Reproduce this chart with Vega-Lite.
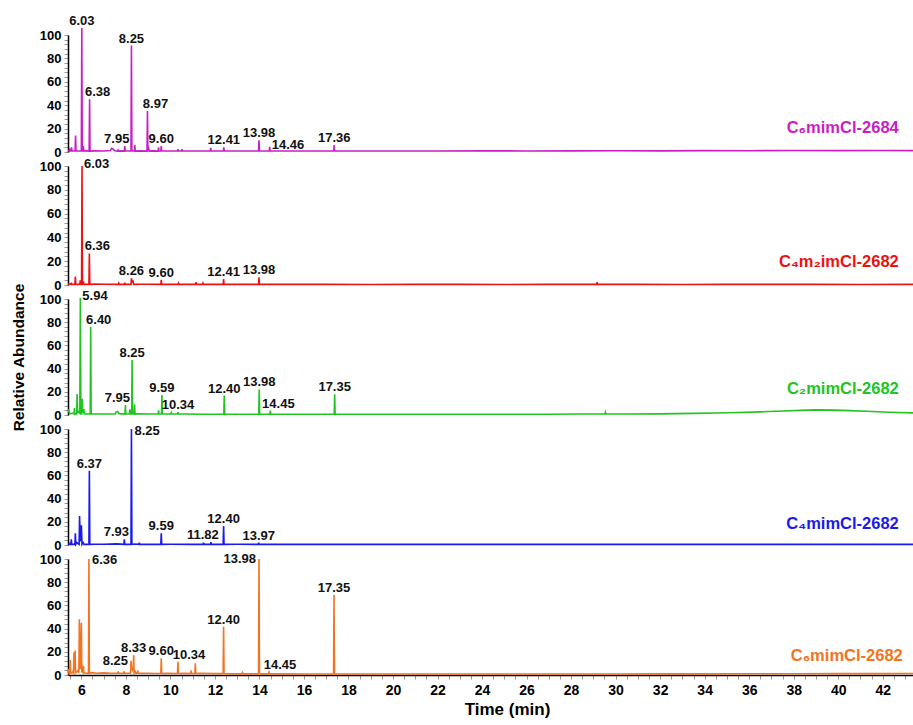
{
  "$schema": "https://vega.github.io/schema/vega-lite/v6.json",
  "background": "white",
  "padding": {"left": 11, "top": 14, "right": 0, "bottom": 5},
  "spacing": 14,
  "bounds": "flush",
  "config": {
    "view": {"stroke": null},
    "font": "Liberation Sans",
    "axis": {"labelFont": "Liberation Sans", "labelFontWeight": "bold", "labelColor": "black", "titleFont": "Liberation Sans", "titleFontWeight": "bold", "titleColor": "black", "domainColor": "black", "domainWidth": 1.5, "tickColor": "#999999", "tickSize": 4, "grid": false, "labelOverlap": false},
    "text": {"font": "Liberation Sans", "fontWeight": "bold", "fontSize": 13, "color": "#111111", "baseline": "alphabetic"}
  },
  "datasets": {
    "tr": [
      {"s":"m","t":5.40,"v":1.2},{"s":"m","t":5.46,"v":0.8},{"s":"m","t":5.48,"v":2},{"s":"m","t":5.50,"v":0.8},{"s":"m","t":5.54,"v":0.8},{"s":"m","t":5.56,"v":4},{"s":"m","t":5.58,"v":0.8},{"s":"m","t":5.72,"v":0.8},{"s":"m","t":5.74,"v":14},{"s":"m","t":5.76,"v":0.8},{"s":"m","t":6.00,"v":0.8},{"s":"m","t":6.02,"v":106},{"s":"m","t":6.04,"v":0.8},{"s":"m","t":6.07,"v":0.8},{"s":"m","t":6.09,"v":5},{"s":"m","t":6.11,"v":0.8},{"s":"m","t":6.20,"v":1},{"s":"m","t":6.35,"v":0.8},{"s":"m","t":6.37,"v":45},{"s":"m","t":6.39,"v":0.8},{"s":"m","t":6.60,"v":1},{"s":"m","t":7.00,"v":0.9},{"s":"m","t":7.30,"v":1.2},{"s":"m","t":7.36,"v":3},{"s":"m","t":7.42,"v":2.6},{"s":"m","t":7.50,"v":1},{"s":"m","t":7.63,"v":0.8},{"s":"m","t":7.65,"v":1.6},{"s":"m","t":7.67,"v":0.8},{"s":"m","t":7.80,"v":1},{"s":"m","t":7.93,"v":0.8},{"s":"m","t":7.95,"v":5},{"s":"m","t":7.97,"v":0.8},{"s":"m","t":8.23,"v":0.8},{"s":"m","t":8.25,"v":91},{"s":"m","t":8.27,"v":0.8},{"s":"m","t":8.38,"v":0.8},{"s":"m","t":8.40,"v":6},{"s":"m","t":8.42,"v":0.8},{"s":"m","t":8.60,"v":1},{"s":"m","t":8.95,"v":0.8},{"s":"m","t":8.97,"v":35},{"s":"m","t":8.99,"v":0.8},{"s":"m","t":9.02,"v":3},{"s":"m","t":9.05,"v":0.8},{"s":"m","t":9.20,"v":1},{"s":"m","t":9.45,"v":0.8},{"s":"m","t":9.47,"v":4},{"s":"m","t":9.49,"v":0.8},{"s":"m","t":9.57,"v":0.8},{"s":"m","t":9.59,"v":5},{"s":"m","t":9.61,"v":0.8},{"s":"m","t":9.80,"v":0.8},{"s":"m","t":10.32,"v":0.8},{"s":"m","t":10.34,"v":2.5},{"s":"m","t":10.36,"v":0.8},{"s":"m","t":10.50,"v":0.8},{"s":"m","t":10.52,"v":2.5},{"s":"m","t":10.54,"v":0.8},{"s":"m","t":10.80,"v":0.8},{"s":"m","t":11.40,"v":0.8},{"s":"m","t":11.79,"v":0.8},{"s":"m","t":11.81,"v":3.5},{"s":"m","t":11.83,"v":0.8},{"s":"m","t":12.38,"v":0.8},{"s":"m","t":12.40,"v":4},{"s":"m","t":12.42,"v":0.8},{"s":"m","t":12.90,"v":0.9},{"s":"m","t":13.50,"v":0.8},{"s":"m","t":13.96,"v":0.8},{"s":"m","t":13.98,"v":10},{"s":"m","t":14.00,"v":0.8},{"s":"m","t":14.44,"v":0.8},{"s":"m","t":14.46,"v":4.5},{"s":"m","t":14.48,"v":0.8},{"s":"m","t":15.50,"v":0.8},{"s":"m","t":16.50,"v":0.9},{"s":"m","t":17.34,"v":0.8},{"s":"m","t":17.36,"v":6},{"s":"m","t":17.38,"v":0.8},{"s":"m","t":18,"v":0.8},{"s":"m","t":20,"v":0.9},{"s":"m","t":22,"v":0.8},{"s":"m","t":24,"v":1},{"s":"m","t":26,"v":0.9},{"s":"m","t":28,"v":1},{"s":"m","t":30,"v":1.1},{"s":"m","t":32,"v":1},{"s":"m","t":34,"v":1.2},{"s":"m","t":36,"v":1.1},{"s":"m","t":38,"v":1.3},{"s":"m","t":40,"v":1.2},{"s":"m","t":42,"v":1.3},{"s":"m","t":43.36,"v":1.2},

      {"s":"r","t":5.40,"v":1},{"s":"r","t":5.53,"v":0.5},{"s":"r","t":5.55,"v":2},{"s":"r","t":5.57,"v":0.5},{"s":"r","t":5.71,"v":0.5},{"s":"r","t":5.73,"v":7},{"s":"r","t":5.75,"v":0.5},{"s":"r","t":5.93,"v":0.5},{"s":"r","t":5.95,"v":4},{"s":"r","t":5.97,"v":0.5},{"s":"r","t":6.01,"v":0.5},{"s":"r","t":6.03,"v":100},{"s":"r","t":6.05,"v":0.5},{"s":"r","t":6.07,"v":0.5},{"s":"r","t":6.09,"v":3},{"s":"r","t":6.11,"v":0.5},{"s":"r","t":6.34,"v":0.5},{"s":"r","t":6.36,"v":26.5},{"s":"r","t":6.38,"v":0.5},{"s":"r","t":6.60,"v":0.7},{"s":"r","t":7.00,"v":0.6},{"s":"r","t":7.66,"v":0.5},{"s":"r","t":7.68,"v":1.5},{"s":"r","t":7.70,"v":0.5},{"s":"r","t":7.93,"v":0.5},{"s":"r","t":7.95,"v":2},{"s":"r","t":7.97,"v":0.5},{"s":"r","t":8.23,"v":0.5},{"s":"r","t":8.25,"v":5.7},{"s":"r","t":8.28,"v":2.5},{"s":"r","t":8.32,"v":3},{"s":"r","t":8.35,"v":0.5},{"s":"r","t":8.60,"v":0.6},{"s":"r","t":9.00,"v":0.6},{"s":"r","t":9.57,"v":0.5},{"s":"r","t":9.59,"v":4.3},{"s":"r","t":9.61,"v":0.5},{"s":"r","t":10.35,"v":0.5},{"s":"r","t":10.37,"v":1.5},{"s":"r","t":10.39,"v":0.5},{"s":"r","t":11.13,"v":0.5},{"s":"r","t":11.15,"v":2.5},{"s":"r","t":11.17,"v":0.5},{"s":"r","t":11.44,"v":0.5},{"s":"r","t":11.46,"v":1.5},{"s":"r","t":11.48,"v":0.5},{"s":"r","t":12.37,"v":0.5},{"s":"r","t":12.39,"v":5},{"s":"r","t":12.41,"v":0.5},{"s":"r","t":13.96,"v":0.5},{"s":"r","t":13.98,"v":6.5},{"s":"r","t":14.00,"v":0.5},{"s":"r","t":15,"v":0.5},{"s":"r","t":17,"v":0.5},{"s":"r","t":19,"v":0.4},{"s":"r","t":21,"v":0.5},{"s":"r","t":23,"v":0.5},{"s":"r","t":25,"v":0.4},{"s":"r","t":27,"v":0.5},{"s":"r","t":29.15,"v":0.5},{"s":"r","t":29.17,"v":2.5},{"s":"r","t":29.19,"v":0.5},{"s":"r","t":31,"v":0.5},{"s":"r","t":33,"v":0.4},{"s":"r","t":35,"v":0.5},{"s":"r","t":37,"v":0.5},{"s":"r","t":39,"v":0.5},{"s":"r","t":41,"v":0.4},{"s":"r","t":43.36,"v":0.5},

      {"s":"g","t":5.40,"v":4},{"s":"g","t":5.43,"v":4.3},{"s":"g","t":5.47,"v":1},{"s":"g","t":5.60,"v":1.5},{"s":"g","t":5.67,"v":0.8},{"s":"g","t":5.69,"v":6},{"s":"g","t":5.71,"v":1},{"s":"g","t":5.79,"v":1},{"s":"g","t":5.81,"v":18},{"s":"g","t":5.83,"v":2},{"s":"g","t":5.88,"v":3},{"s":"g","t":5.93,"v":1},{"s":"g","t":5.955,"v":101},{"s":"g","t":5.98,"v":1},{"s":"g","t":6.02,"v":1},{"s":"g","t":6.04,"v":14},{"s":"g","t":6.07,"v":2},{"s":"g","t":6.11,"v":5},{"s":"g","t":6.14,"v":0.8},{"s":"g","t":6.40,"v":0.8},{"s":"g","t":6.42,"v":76},{"s":"g","t":6.44,"v":0.8},{"s":"g","t":6.70,"v":0.8},{"s":"g","t":7.00,"v":0.8},{"s":"g","t":7.52,"v":1},{"s":"g","t":7.56,"v":2.5},{"s":"g","t":7.62,"v":3},{"s":"g","t":7.70,"v":1.2},{"s":"g","t":7.96,"v":0.8},{"s":"g","t":7.98,"v":8.6},{"s":"g","t":8.00,"v":0.8},{"s":"g","t":8.16,"v":0.8},{"s":"g","t":8.18,"v":5},{"s":"g","t":8.20,"v":0.8},{"s":"g","t":8.26,"v":0.8},{"s":"g","t":8.28,"v":47.4},{"s":"g","t":8.30,"v":0.8},{"s":"g","t":8.37,"v":0.8},{"s":"g","t":8.39,"v":9.2},{"s":"g","t":8.41,"v":0.8},{"s":"g","t":8.55,"v":1},{"s":"g","t":9.00,"v":0.8},{"s":"g","t":9.45,"v":0.8},{"s":"g","t":9.47,"v":4},{"s":"g","t":9.49,"v":0.8},{"s":"g","t":9.60,"v":0.8},{"s":"g","t":9.62,"v":17.2},{"s":"g","t":9.64,"v":0.8},{"s":"g","t":9.80,"v":0.8},{"s":"g","t":10.02,"v":0.8},{"s":"g","t":10.04,"v":2},{"s":"g","t":10.06,"v":0.8},{"s":"g","t":10.32,"v":0.8},{"s":"g","t":10.34,"v":2.5},{"s":"g","t":10.36,"v":0.8},{"s":"g","t":10.60,"v":0.8},{"s":"g","t":11.50,"v":0.6},{"s":"g","t":12.00,"v":0.7},{"s":"g","t":12.40,"v":0.7},{"s":"g","t":12.42,"v":16.7},{"s":"g","t":12.44,"v":0.7},{"s":"g","t":13.00,"v":0.7},{"s":"g","t":13.97,"v":0.7},{"s":"g","t":13.99,"v":22},{"s":"g","t":14.01,"v":0.7},{"s":"g","t":14.47,"v":0.7},{"s":"g","t":14.49,"v":3.7},{"s":"g","t":14.51,"v":0.7},{"s":"g","t":15.50,"v":0.7},{"s":"g","t":16.50,"v":0.7},{"s":"g","t":17.36,"v":0.7},{"s":"g","t":17.38,"v":17.8},{"s":"g","t":17.40,"v":0.7},{"s":"g","t":19,"v":0.6},{"s":"g","t":21,"v":0.6},{"s":"g","t":23,"v":0.6},{"s":"g","t":25,"v":0.7},{"s":"g","t":27,"v":0.7},{"s":"g","t":28.5,"v":0.8},{"s":"g","t":29.52,"v":0.9},{"s":"g","t":29.54,"v":2.3},{"s":"g","t":29.56,"v":0.9},{"s":"g","t":30.5,"v":0.9},{"s":"g","t":32,"v":1.0},{"s":"g","t":33.5,"v":1.4},{"s":"g","t":34.5,"v":1.7},{"s":"g","t":35.5,"v":2.1},{"s":"g","t":36.5,"v":2.7},{"s":"g","t":37.5,"v":3.4},{"s":"g","t":38.3,"v":4.0},{"s":"g","t":39,"v":4.4},{"s":"g","t":39.8,"v":4.2},{"s":"g","t":40.5,"v":3.8},{"s":"g","t":41.3,"v":3.2},{"s":"g","t":42,"v":2.6},{"s":"g","t":42.7,"v":2.1},{"s":"g","t":43.36,"v":1.8},

      {"s":"b","t":5.40,"v":1},{"s":"b","t":5.48,"v":0.5},{"s":"b","t":5.50,"v":2},{"s":"b","t":5.52,"v":0.5},{"s":"b","t":5.53,"v":0.5},{"s":"b","t":5.55,"v":5},{"s":"b","t":5.57,"v":0.5},{"s":"b","t":5.71,"v":0.5},{"s":"b","t":5.73,"v":10},{"s":"b","t":5.75,"v":0.5},{"s":"b","t":5.80,"v":2},{"s":"b","t":5.90,"v":0.5},{"s":"b","t":5.92,"v":25},{"s":"b","t":5.95,"v":3},{"s":"b","t":6.00,"v":17},{"s":"b","t":6.03,"v":0.5},{"s":"b","t":6.08,"v":2},{"s":"b","t":6.12,"v":0.5},{"s":"b","t":6.34,"v":0.5},{"s":"b","t":6.36,"v":64},{"s":"b","t":6.38,"v":0.5},{"s":"b","t":6.60,"v":0.6},{"s":"b","t":7.00,"v":0.6},{"s":"b","t":7.60,"v":1},{"s":"b","t":7.91,"v":0.5},{"s":"b","t":7.93,"v":5},{"s":"b","t":7.95,"v":0.5},{"s":"b","t":8.23,"v":0.5},{"s":"b","t":8.25,"v":100},{"s":"b","t":8.27,"v":0.5},{"s":"b","t":8.40,"v":0.8},{"s":"b","t":8.58,"v":0.5},{"s":"b","t":8.60,"v":2},{"s":"b","t":8.62,"v":0.5},{"s":"b","t":9.00,"v":0.6},{"s":"b","t":9.57,"v":0.5},{"s":"b","t":9.59,"v":10},{"s":"b","t":9.61,"v":0.5},{"s":"b","t":10.00,"v":0.6},{"s":"b","t":11.00,"v":0.5},{"s":"b","t":11.47,"v":0.5},{"s":"b","t":11.49,"v":2},{"s":"b","t":11.51,"v":0.5},{"s":"b","t":11.80,"v":0.5},{"s":"b","t":11.82,"v":2.5},{"s":"b","t":11.84,"v":0.5},{"s":"b","t":12.37,"v":0.5},{"s":"b","t":12.39,"v":16.4},{"s":"b","t":12.41,"v":0.5},{"s":"b","t":13.00,"v":0.6},{"s":"b","t":13.95,"v":0.5},{"s":"b","t":13.97,"v":2},{"s":"b","t":13.99,"v":0.5},{"s":"b","t":15,"v":0.5},{"s":"b","t":17,"v":0.5},{"s":"b","t":19,"v":0.5},{"s":"b","t":21,"v":0.5},{"s":"b","t":23,"v":0.5},{"s":"b","t":25,"v":0.5},{"s":"b","t":27,"v":0.5},{"s":"b","t":29,"v":0.5},{"s":"b","t":31,"v":0.5},{"s":"b","t":33,"v":0.5},{"s":"b","t":35,"v":0.5},{"s":"b","t":37,"v":0.5},{"s":"b","t":39,"v":0.5},{"s":"b","t":41,"v":0.5},{"s":"b","t":43.36,"v":0.5},

      {"s":"o","t":5.40,"v":2},{"s":"o","t":5.42,"v":5},{"s":"o","t":5.45,"v":1},{"s":"o","t":5.48,"v":1},{"s":"o","t":5.50,"v":13},{"s":"o","t":5.52,"v":1.5},{"s":"o","t":5.60,"v":2},{"s":"o","t":5.62,"v":3},{"s":"o","t":5.65,"v":2},{"s":"o","t":5.67,"v":19.6},{"s":"o","t":5.70,"v":4},{"s":"o","t":5.72,"v":21},{"s":"o","t":5.74,"v":2},{"s":"o","t":5.82,"v":3},{"s":"o","t":5.85,"v":4},{"s":"o","t":5.89,"v":2},{"s":"o","t":5.91,"v":48},{"s":"o","t":5.94,"v":12},{"s":"o","t":5.96,"v":5},{"s":"o","t":6.00,"v":45},{"s":"o","t":6.02,"v":3},{"s":"o","t":6.07,"v":2},{"s":"o","t":6.09,"v":8},{"s":"o","t":6.11,"v":2},{"s":"o","t":6.20,"v":1.5},{"s":"o","t":6.32,"v":1.5},{"s":"o","t":6.34,"v":100},{"s":"o","t":6.36,"v":1.5},{"s":"o","t":6.45,"v":2},{"s":"o","t":6.70,"v":1.5},{"s":"o","t":7.00,"v":1.8},{"s":"o","t":7.30,"v":1.5},{"s":"o","t":7.64,"v":1.5},{"s":"o","t":7.66,"v":3},{"s":"o","t":7.68,"v":1.5},{"s":"o","t":7.80,"v":1.5},{"s":"o","t":7.90,"v":1.5},{"s":"o","t":7.92,"v":3},{"s":"o","t":7.94,"v":1.5},{"s":"o","t":8.10,"v":1.5},{"s":"o","t":8.21,"v":1.5},{"s":"o","t":8.23,"v":12.3},{"s":"o","t":8.26,"v":6},{"s":"o","t":8.29,"v":5},{"s":"o","t":8.33,"v":3},{"s":"o","t":8.35,"v":17},{"s":"o","t":8.37,"v":1.5},{"s":"o","t":8.42,"v":3},{"s":"o","t":8.45,"v":1.5},{"s":"o","t":8.51,"v":1.5},{"s":"o","t":8.53,"v":4},{"s":"o","t":8.55,"v":1.5},{"s":"o","t":8.70,"v":1.5},{"s":"o","t":9.00,"v":1.5},{"s":"o","t":9.30,"v":1.3},{"s":"o","t":9.57,"v":1.3},{"s":"o","t":9.59,"v":14.4},{"s":"o","t":9.61,"v":1.3},{"s":"o","t":9.80,"v":1.5},{"s":"o","t":10.32,"v":1.3},{"s":"o","t":10.34,"v":11.5},{"s":"o","t":10.36,"v":1.3},{"s":"o","t":10.60,"v":1.5},{"s":"o","t":10.91,"v":1.3},{"s":"o","t":10.93,"v":4},{"s":"o","t":10.95,"v":1.3},{"s":"o","t":11.10,"v":1.3},{"s":"o","t":11.12,"v":10},{"s":"o","t":11.14,"v":1.3},{"s":"o","t":11.30,"v":1.5},{"s":"o","t":12.00,"v":1.2},{"s":"o","t":12.37,"v":1.2},{"s":"o","t":12.39,"v":41.6},{"s":"o","t":12.41,"v":1.2},{"s":"o","t":12.80,"v":1},{"s":"o","t":13.22,"v":1},{"s":"o","t":13.24,"v":2},{"s":"o","t":13.26,"v":1},{"s":"o","t":13.50,"v":1},{"s":"o","t":13.96,"v":1},{"s":"o","t":13.98,"v":100},{"s":"o","t":14.00,"v":1},{"s":"o","t":14.20,"v":1},{"s":"o","t":14.41,"v":1},{"s":"o","t":14.43,"v":2.3},{"s":"o","t":14.45,"v":1},{"s":"o","t":15,"v":1},{"s":"o","t":16,"v":0.9},{"s":"o","t":17.33,"v":0.9},{"s":"o","t":17.35,"v":69},{"s":"o","t":17.37,"v":0.9},{"s":"o","t":18,"v":0.9},{"s":"o","t":20,"v":0.8},{"s":"o","t":22,"v":0.9},{"s":"o","t":24,"v":0.8},{"s":"o","t":26,"v":0.9},{"s":"o","t":28,"v":0.8},{"s":"o","t":30,"v":0.9},{"s":"o","t":32,"v":1},{"s":"o","t":34,"v":1},{"s":"o","t":36,"v":1.1},{"s":"o","t":38,"v":1.1},{"s":"o","t":40,"v":1.2},{"s":"o","t":42,"v":1.2},{"s":"o","t":43.36,"v":1.3}
    ],
    "lc": [
      {"s":"m","t":6.02,"v":106,"label":"6.03"},{"s":"m","t":8.25,"v":91,"label":"8.25"},{"s":"m","t":9.59,"v":5,"label":"9.60"},{"s":"m","t":12.40,"v":4,"label":"12.41"},{"s":"m","t":13.98,"v":10,"label":"13.98"},{"s":"m","t":17.36,"v":6,"label":"17.36"},
      {"s":"r","t":8.25,"v":5.7,"label":"8.26"},{"s":"r","t":9.59,"v":4.3,"label":"9.60"},{"s":"r","t":12.39,"v":5,"label":"12.41"},{"s":"r","t":13.98,"v":6.5,"label":"13.98"},
      {"s":"g","t":8.28,"v":47.4,"label":"8.25"},{"s":"g","t":9.62,"v":17.2,"label":"9.59"},{"s":"g","t":10.34,"v":2.5,"label":"10.34"},{"s":"g","t":12.42,"v":16.7,"label":"12.40"},{"s":"g","t":13.99,"v":22,"label":"13.98"},{"s":"g","t":17.38,"v":17.8,"label":"17.35"},
      {"s":"b","t":6.36,"v":64,"label":"6.37"},{"s":"b","t":9.59,"v":10,"label":"9.59"},{"s":"b","t":12.39,"v":16.4,"label":"12.40"},{"s":"b","t":13.97,"v":2,"label":"13.97"},
      {"s":"o","t":8.35,"v":17,"label":"8.33"},{"s":"o","t":9.59,"v":14.4,"label":"9.60"},{"s":"o","t":12.39,"v":41.6,"label":"12.40"},{"s":"o","t":17.35,"v":69,"label":"17.35"}
    ],
    "lcp": [
      {"s":"m","t":6.37,"v":45,"label":"6.38"},{"s":"m","t":8.97,"v":35,"label":"8.97"},
      {"s":"r","t":6.36,"v":26.5,"label":"6.36"},
      {"s":"g","t":6.42,"v":76,"label":"6.40"},{"s":"g","t":14.49,"v":3.7,"label":"14.45"}
    ],
    "lcpp": [
      {"s":"o","t":10.34,"v":11.5,"label":"10.34"},{"s":"o","t":14.43,"v":2.3,"label":"14.45"}
    ],
    "lcm": [
      {"s":"m","t":7.95,"v":5,"label":"7.95"},
      {"s":"g","t":7.98,"v":8.6,"label":"7.95"},
      {"s":"b","t":7.93,"v":5,"label":"7.93"},{"s":"b","t":11.82,"v":2.5,"label":"11.82"}
    ],
    "lr": [
      {"s":"m","t":14.46,"v":4.5,"label":"14.46"},
      {"s":"r","t":6.03,"v":100,"label":"6.03"},
      {"s":"g","t":5.955,"v":101,"label":"5.94"},
      {"s":"b","t":8.25,"v":100,"label":"8.25"},
      {"s":"o","t":6.34,"v":100,"label":"6.36"}
    ],
    "ll": [
      {"s":"o","t":13.98,"v":100,"label":"13.98"},{"s":"o","t":8.23,"v":12.3,"label":"8.25"}
    ]
  },
  "vconcat": [
    {
      "width": 845, "height": 117,
      "layer": [
        {
          "encoding": {
            "x": {"field": "t", "type": "quantitative", "scale": {"domain": [5.4, 43.36], "nice": false, "zero": false}, "axis": null},
            "y": {"field": "v", "type": "quantitative", "scale": {"domain": [0, 100], "nice": false}, "axis": {"values": [0,4,8,12,16,20,24,28,32,36,40,44,48,52,56,60,64,68,72,76,80,84,88,92,96,100], "labelExpr": "datum.value % 20 === 0 ? datum.label : ''", "labelFontSize": 13, "labelPadding": 3, "title": null}}
          },
          "layer": [
            {"data": {"name": "tr"}, "transform": [{"filter": "datum.s === 'm'"}], "mark": {"type": "line", "color": "#c81ec8", "strokeWidth": 1.6}},
            {"data": {"name": "lc"}, "transform": [{"filter": "datum.s === 'm'"}], "mark": {"type": "text", "align": "center", "dy": -3}, "encoding": {"text": {"field": "label"}}},
            {"data": {"name": "lcp"}, "transform": [{"filter": "datum.s === 'm'"}], "mark": {"type": "text", "align": "center", "dx": 8, "dy": -3}, "encoding": {"text": {"field": "label"}}},
            {"data": {"name": "lcm"}, "transform": [{"filter": "datum.s === 'm'"}], "mark": {"type": "text", "align": "center", "dx": -8, "dy": -3}, "encoding": {"text": {"field": "label"}}},
            {"data": {"name": "lr"}, "transform": [{"filter": "datum.s === 'm'"}], "mark": {"type": "text", "align": "left", "dx": 2, "dy": 2}, "encoding": {"text": {"field": "label"}}}
          ]
        },
        {"data": {"values": [{"name": "C₆mimCl-2684"}]}, "mark": {"type": "text", "align": "right", "fontSize": 16.5, "color": "#c81ec8"},
         "encoding": {"x": {"datum": 42.72, "type": "quantitative", "scale": {"domain": [5.4, 43.36], "nice": false, "zero": false}, "axis": null},
                      "y": {"datum": 16, "type": "quantitative", "scale": {"domain": [0, 100], "nice": false}, "axis": {"values": [0,4,8,12,16,20,24,28,32,36,40,44,48,52,56,60,64,68,72,76,80,84,88,92,96,100], "labelExpr": "datum.value % 20 === 0 ? datum.label : ''", "labelFontSize": 13, "labelPadding": 3, "title": null}},
                      "text": {"field": "name"}}}
      ]
    },
    {
      "width": 845, "height": 119,
      "layer": [
        {
          "encoding": {
            "x": {"field": "t", "type": "quantitative", "scale": {"domain": [5.4, 43.36], "nice": false, "zero": false}, "axis": null},
            "y": {"field": "v", "type": "quantitative", "scale": {"domain": [0, 100], "nice": false}, "axis": {"values": [0,4,8,12,16,20,24,28,32,36,40,44,48,52,56,60,64,68,72,76,80,84,88,92,96,100], "labelExpr": "datum.value % 20 === 0 ? datum.label : ''", "labelFontSize": 13, "labelPadding": 3, "title": null}}
          },
          "layer": [
            {"data": {"name": "tr"}, "transform": [{"filter": "datum.s === 'r'"}], "mark": {"type": "line", "color": "#ee1111", "strokeWidth": 1.6}},
            {"data": {"name": "lc"}, "transform": [{"filter": "datum.s === 'r'"}], "mark": {"type": "text", "align": "center", "dy": -3}, "encoding": {"text": {"field": "label"}}},
            {"data": {"name": "lcp"}, "transform": [{"filter": "datum.s === 'r'"}], "mark": {"type": "text", "align": "center", "dx": 8, "dy": -3}, "encoding": {"text": {"field": "label"}}},
            {"data": {"name": "lr"}, "transform": [{"filter": "datum.s === 'r'"}], "mark": {"type": "text", "align": "left", "dx": 2, "dy": 2}, "encoding": {"text": {"field": "label"}}}
          ]
        },
        {"data": {"values": [{"name": "C₄m₂imCl-2682"}]}, "mark": {"type": "text", "align": "right", "fontSize": 16.5, "color": "#ee1111"},
         "encoding": {"x": {"datum": 42.72, "type": "quantitative", "scale": {"domain": [5.4, 43.36], "nice": false, "zero": false}, "axis": null},
                      "y": {"datum": 15, "type": "quantitative", "scale": {"domain": [0, 100], "nice": false}, "axis": {"values": [0,4,8,12,16,20,24,28,32,36,40,44,48,52,56,60,64,68,72,76,80,84,88,92,96,100], "labelExpr": "datum.value % 20 === 0 ? datum.label : ''", "labelFontSize": 13, "labelPadding": 3, "title": null}},
                      "text": {"field": "name"}}}
      ]
    },
    {
      "width": 845, "height": 116,
      "layer": [
        {
          "encoding": {
            "x": {"field": "t", "type": "quantitative", "scale": {"domain": [5.4, 43.36], "nice": false, "zero": false}, "axis": null},
            "y": {"field": "v", "type": "quantitative", "scale": {"domain": [0, 100], "nice": false}, "axis": {"values": [0,4,8,12,16,20,24,28,32,36,40,44,48,52,56,60,64,68,72,76,80,84,88,92,96,100], "labelExpr": "datum.value % 20 === 0 ? datum.label : ''", "labelFontSize": 13, "labelPadding": 3, "title": "Relative Abundance", "titleFontSize": 15.5, "titlePadding": 13}}
          },
          "layer": [
            {"data": {"name": "tr"}, "transform": [{"filter": "datum.s === 'g'"}], "mark": {"type": "line", "color": "#22c422", "strokeWidth": 1.6}},
            {"data": {"name": "lc"}, "transform": [{"filter": "datum.s === 'g'"}], "mark": {"type": "text", "align": "center", "dy": -3}, "encoding": {"text": {"field": "label"}}},
            {"data": {"name": "lcp"}, "transform": [{"filter": "datum.s === 'g'"}], "mark": {"type": "text", "align": "center", "dx": 8, "dy": -3}, "encoding": {"text": {"field": "label"}}},
            {"data": {"name": "lcm"}, "transform": [{"filter": "datum.s === 'g'"}], "mark": {"type": "text", "align": "center", "dx": -8, "dy": -3}, "encoding": {"text": {"field": "label"}}},
            {"data": {"name": "lr"}, "transform": [{"filter": "datum.s === 'g'"}], "mark": {"type": "text", "align": "left", "dx": 2, "dy": 2}, "encoding": {"text": {"field": "label"}}}
          ]
        },
        {"data": {"values": [{"name": "C₂mimCl-2682"}]}, "mark": {"type": "text", "align": "right", "fontSize": 16.5, "color": "#22c422"},
         "encoding": {"x": {"datum": 42.72, "type": "quantitative", "scale": {"domain": [5.4, 43.36], "nice": false, "zero": false}, "axis": null},
                      "y": {"datum": 18.5, "type": "quantitative", "scale": {"domain": [0, 100], "nice": false}, "axis": {"values": [0,4,8,12,16,20,24,28,32,36,40,44,48,52,56,60,64,68,72,76,80,84,88,92,96,100], "labelExpr": "datum.value % 20 === 0 ? datum.label : ''", "labelFontSize": 13, "labelPadding": 3, "title": "Relative Abundance", "titleFontSize": 15.5, "titlePadding": 13}},
                      "text": {"field": "name"}}}
      ]
    },
    {
      "width": 845, "height": 116,
      "layer": [
        {
          "encoding": {
            "x": {"field": "t", "type": "quantitative", "scale": {"domain": [5.4, 43.36], "nice": false, "zero": false}, "axis": null},
            "y": {"field": "v", "type": "quantitative", "scale": {"domain": [0, 100], "nice": false}, "axis": {"values": [0,4,8,12,16,20,24,28,32,36,40,44,48,52,56,60,64,68,72,76,80,84,88,92,96,100], "labelExpr": "datum.value % 20 === 0 ? datum.label : ''", "labelFontSize": 13, "labelPadding": 3, "title": null}}
          },
          "layer": [
            {"data": {"name": "tr"}, "transform": [{"filter": "datum.s === 'b'"}], "mark": {"type": "line", "color": "#1a1aee", "strokeWidth": 1.6}},
            {"data": {"name": "lc"}, "transform": [{"filter": "datum.s === 'b'"}], "mark": {"type": "text", "align": "center", "dy": -3}, "encoding": {"text": {"field": "label"}}},
            {"data": {"name": "lcm"}, "transform": [{"filter": "datum.s === 'b'"}], "mark": {"type": "text", "align": "center", "dx": -8, "dy": -3}, "encoding": {"text": {"field": "label"}}},
            {"data": {"name": "lr"}, "transform": [{"filter": "datum.s === 'b'"}], "mark": {"type": "text", "align": "left", "dx": 3, "dy": 6}, "encoding": {"text": {"field": "label"}}}
          ]
        },
        {"data": {"values": [{"name": "C₄mimCl-2682"}]}, "mark": {"type": "text", "align": "right", "fontSize": 16.5, "color": "#1a1aee"},
         "encoding": {"x": {"datum": 42.72, "type": "quantitative", "scale": {"domain": [5.4, 43.36], "nice": false, "zero": false}, "axis": null},
                      "y": {"datum": 14, "type": "quantitative", "scale": {"domain": [0, 100], "nice": false}, "axis": {"values": [0,4,8,12,16,20,24,28,32,36,40,44,48,52,56,60,64,68,72,76,80,84,88,92,96,100], "labelExpr": "datum.value % 20 === 0 ? datum.label : ''", "labelFontSize": 13, "labelPadding": 3, "title": null}},
                      "text": {"field": "name"}}}
      ]
    },
    {
      "width": 845, "height": 116,
      "layer": [
        {
          "encoding": {
            "x": {"field": "t", "type": "quantitative", "scale": {"domain": [5.4, 43.36], "nice": false, "zero": false}, "axis": {"tickCount": 76, "labelExpr": "datum.value % 2 === 0 ? format(datum.value, 'd') : ''", "labelFontSize": 14, "labelPadding": 4, "labelFlush": false, "title": "Time (min)", "titleFontSize": 17, "titlePadding": 4, "titleX": 439}},
            "y": {"field": "v", "type": "quantitative", "scale": {"domain": [0, 100], "nice": false}, "axis": {"values": [0,4,8,12,16,20,24,28,32,36,40,44,48,52,56,60,64,68,72,76,80,84,88,92,96,100], "labelExpr": "datum.value % 20 === 0 ? datum.label : ''", "labelFontSize": 13, "labelPadding": 3, "title": null}}
          },
          "layer": [
            {"data": {"name": "tr"}, "transform": [{"filter": "datum.s === 'o'"}], "mark": {"type": "line", "color": "#f47321", "strokeWidth": 1.6}},
            {"data": {"name": "lc"}, "transform": [{"filter": "datum.s === 'o'"}], "mark": {"type": "text", "align": "center", "dy": -3}, "encoding": {"text": {"field": "label"}}},
            {"data": {"name": "lcpp"}, "transform": [{"filter": "datum.s === 'o'"}], "mark": {"type": "text", "align": "center", "dx": 11, "dy": -3}, "encoding": {"text": {"field": "label"}}},
            {"data": {"name": "lr"}, "transform": [{"filter": "datum.s === 'o'"}], "mark": {"type": "text", "align": "left", "dx": 3, "dy": 5}, "encoding": {"text": {"field": "label"}}},
            {"data": {"name": "ll"}, "transform": [{"filter": "datum.s === 'o'"}], "mark": {"type": "text", "align": "right", "dx": -3, "dy": 4}, "encoding": {"text": {"field": "label"}}}
          ]
        },
        {"data": {"values": [{"name": "C₆mimCl-2682"}]}, "mark": {"type": "text", "align": "right", "fontSize": 16.5, "color": "#f47321"},
         "encoding": {"x": {"datum": 42.9, "type": "quantitative", "scale": {"domain": [5.4, 43.36], "nice": false, "zero": false}, "axis": {"tickCount": 76, "labelExpr": "datum.value % 2 === 0 ? format(datum.value, 'd') : ''", "labelFontSize": 14, "labelPadding": 4, "labelFlush": false, "title": "Time (min)", "titleFontSize": 17, "titlePadding": 4, "titleX": 439}},
                      "y": {"datum": 12, "type": "quantitative", "scale": {"domain": [0, 100], "nice": false}, "axis": {"values": [0,4,8,12,16,20,24,28,32,36,40,44,48,52,56,60,64,68,72,76,80,84,88,92,96,100], "labelExpr": "datum.value % 20 === 0 ? datum.label : ''", "labelFontSize": 13, "labelPadding": 3, "title": null}},
                      "text": {"field": "name"}}}
      ]
    }
  ]
}
